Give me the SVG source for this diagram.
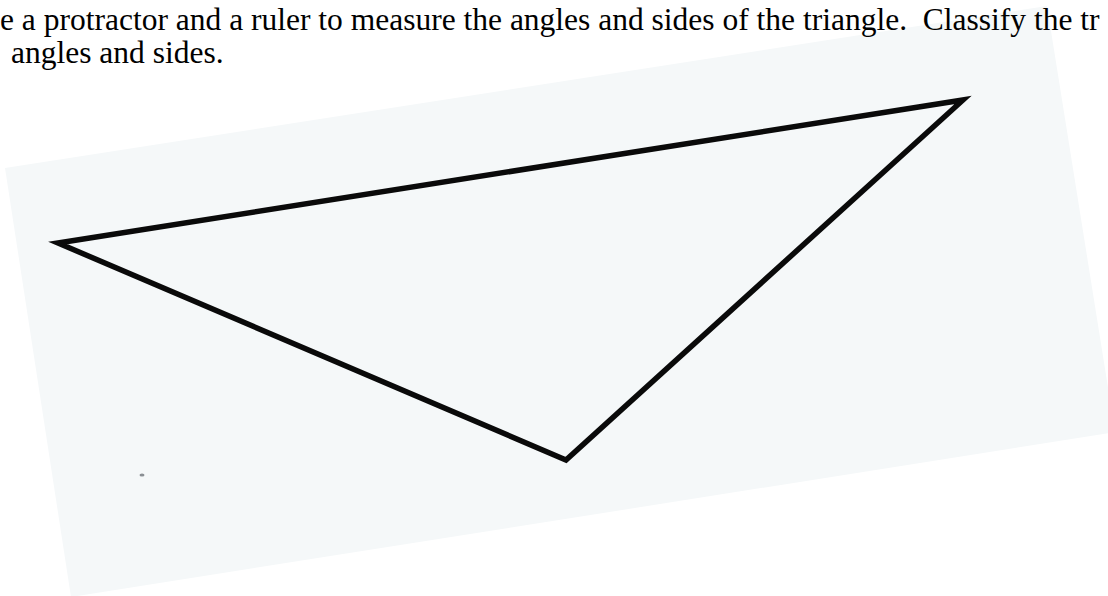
<svg xmlns="http://www.w3.org/2000/svg" width="1108" height="596" viewBox="0 0 1108 596">
  <style>
    .t { font-family: "Liberation Serif", "Times New Roman", serif; font-size: 31.5px; fill: #000; }
    .paper { fill: #f5f8f9; }
    .tri { fill: none; stroke: #0a0a0a; stroke-width: 5.5; stroke-linejoin: miter; stroke-miterlimit: 20; }
  </style>
  <rect x="0" y="0" width="1108" height="596" fill="#ffffff"/>
  <g id="paper">
    <polygon class="paper" points="5,168 1047,6 1110,400 1110,433 71,597"/>
    <ellipse cx="142" cy="475" rx="2.5" ry="1.5" fill="#8a8f94"/>
  </g>
  <g id="instructions">
    <text class="t" x="0" y="30" xml:space="preserve">e a protractor and a ruler to measure the angles and sides of the triangle.  Classify the tr</text>
    <text class="t" x="11" y="63">angles and sides.</text>
  </g>
  <g id="triangle">
    <polygon class="tri" points="58,243 963,100 566,460"/>
  </g>
</svg>
